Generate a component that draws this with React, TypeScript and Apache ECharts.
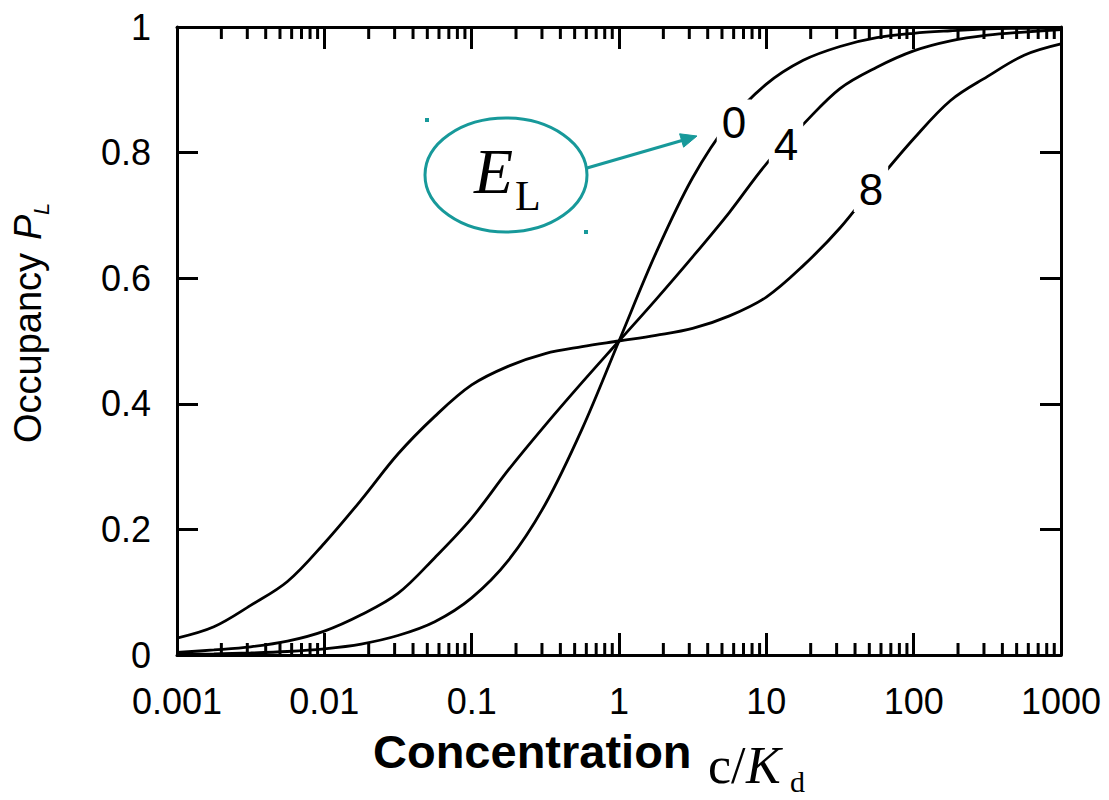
import React, { useEffect, useRef } from "react";
import * as echarts from "echarts";

// Concentration c/Kd (log scale, quarter-decade samples)
const conc = [0.001, 0.00178, 0.00316, 0.00562, 0.01, 0.0178, 0.0316, 0.0562, 0.1, 0.178, 0.316, 0.562, 1, 1.78, 3.16, 5.62, 10, 17.8, 31.6, 56.2, 100, 178, 316, 562, 1000];
// Occupancy P_L for E_L = 0, 4, 8
const occE0 = [0.001, 0.0018, 0.0032, 0.0056, 0.0099, 0.0175, 0.031, 0.053, 0.091, 0.151, 0.24, 0.36, 0.5, 0.64, 0.76, 0.849, 0.909, 0.947, 0.969, 0.983, 0.99, 0.994, 0.997, 0.998, 0.999];
const occE4 = [0.004, 0.008, 0.013, 0.022, 0.038, 0.064, 0.098, 0.155, 0.218, 0.295, 0.366, 0.434, 0.5, 0.566, 0.634, 0.705, 0.782, 0.845, 0.902, 0.936, 0.962, 0.978, 0.987, 0.992, 0.996];
const occE8 = [0.027, 0.045, 0.079, 0.117, 0.178, 0.247, 0.32, 0.38, 0.43, 0.46, 0.48, 0.491, 0.5, 0.509, 0.52, 0.54, 0.57, 0.62, 0.68, 0.753, 0.822, 0.883, 0.921, 0.955, 0.973];

const curveNames = ["0", "4", "8"];
// label anchors [c/Kd, P_L]
const curveLabelX = [6.03, 13.6, 51.3];
const curveLabelY = [0.848, 0.813, 0.742];

const xTickLabels = ["0.001", "0.01", "0.1", "1", "10", "100", "1000"];
const yTickLabels = ["0", "0.2", "0.4", "0.6", "0.8", "1"];
const decades = [0.001, 0.01, 0.1, 1, 10, 100];
const minorMultipliers = [2, 3, 4, 5, 6, 7, 8, 9];

const TEAL = "#17999a";
const SANS = "'Liberation Sans', Arial, Helvetica, sans-serif";
const SERIF = "'Liberation Serif', 'Times New Roman', serif";

const txt = (extra: any) => ({
  fill: "#000",
  align: "left",
  verticalAlign: "middle",
  textAlign: "left",
  textVerticalAlign: "middle",
  ...extra,
});

export default function App() {
  const ref = useRef<HTMLDivElement>(null);
  useEffect(() => {
    document.body.style.margin = "0";
    if (!ref.current) return;
    const chart = echarts.init(ref.current, undefined, { renderer: "svg" });

    const minorTicks: number[][] = [];
    decades.forEach((d) => minorMultipliers.forEach((m) => minorTicks.push([d * m, 0])));

    const xFmt = (v: number) => xTickLabels[Math.round(Math.log10(v)) + 3] ?? "";
    const yFmt = (v: number) => yTickLabels[Math.round(v / 0.2)] ?? "";

    const mkLine = (vals: number[], name: string) => ({
      type: "line",
      name,
      data: conc.map((c, i) => [c, vals[i]]),
      showSymbol: false,
      symbol: "none",
      smooth: 0.35,
      lineStyle: { color: "#000", width: 2.8 },
      silent: true,
      z: 3,
    });

    const axisLine = { show: true, onZero: false, lineStyle: { color: "#000", width: 3 } };
    const majorTick = (len: number) => ({ show: true, inside: true, length: len, lineStyle: { color: "#000", width: 3 } });

    chart.setOption({
      animation: false,
      backgroundColor: "#fff",
      grid: { left: 177, right: 48, top: 27, bottom: 145, containLabel: false },
      xAxis: [
        {
          type: "log",
          logBase: 10,
          min: 0.001,
          max: 1000,
          splitNumber: 6,
          position: "bottom",
          axisLine,
          axisTick: majorTick(22),
          axisLabel: {
            show: true,
            formatter: xFmt,
            fontFamily: SANS,
            fontSize: 36,
            color: "#000",
            margin: 28,
            showMinLabel: true,
            showMaxLabel: true,
            hideOverlap: false,
          },
          splitLine: { show: false },
        },
        {
          type: "log",
          logBase: 10,
          min: 0.001,
          max: 1000,
          splitNumber: 6,
          position: "top",
          axisLine,
          axisTick: majorTick(22),
          axisLabel: { show: false },
          splitLine: { show: false },
        },
      ],
      yAxis: [
        {
          type: "value",
          min: 0,
          max: 1,
          interval: 0.2,
          position: "left",
          axisLine,
          axisTick: majorTick(21),
          axisLabel: { formatter: yFmt, fontFamily: SANS, fontSize: 36, color: "#000", margin: 26 },
          splitLine: { show: false },
        },
        {
          type: "value",
          min: 0,
          max: 1,
          interval: 0.2,
          position: "right",
          axisLine,
          axisTick: majorTick(21),
          axisLabel: { show: false },
          splitLine: { show: false },
        },
      ],
      series: [
        mkLine(occE0, "E_L = 0"),
        mkLine(occE4, "E_L = 4"),
        mkLine(occE8, "E_L = 8"),
        {
          type: "custom",
          name: "minor ticks",
          silent: true,
          clip: false,
          data: minorTicks,
          renderItem: (params: any, api: any) => {
            const v = api.value(0);
            const b = api.coord([v, 0]);
            const t = api.coord([v, 1]);
            return {
              type: "group",
              children: [
                { type: "line", shape: { x1: b[0], y1: b[1], x2: b[0], y2: b[1] - 12 }, style: { stroke: "#000", lineWidth: 3 } },
                { type: "line", shape: { x1: t[0], y1: t[1], x2: t[0], y2: t[1] + 12 }, style: { stroke: "#000", lineWidth: 3 } },
              ],
            };
          },
          z: 2,
        },
        {
          type: "scatter",
          name: "curve labels",
          silent: true,
          symbolSize: 0,
          itemStyle: { color: "#fff", opacity: 1 },
          data: curveNames.map((n, i) => [curveLabelX[i], curveLabelY[i], n]),
          label: {
            show: true,
            position: "inside",
            formatter: (p: any) => p.value[2],
            fontFamily: SANS,
            fontSize: 44,
            color: "#000",
            opacity: 1,
            textBorderWidth: 0,
            textBorderColor: "transparent",
            backgroundColor: "#fff",
            padding: [2, 5, 0, 5],
          },
          z: 5,
        },
      ],
      graphic: [
        // annotation: E_L ellipse with arrow
        {
          type: "ellipse",
          shape: { cx: 506, cy: 175, rx: 81, ry: 57 },
          style: { fill: "none", stroke: TEAL, lineWidth: 3 },
          z: 10,
        },
        { type: "text", x: 474, y: 171, style: txt({ text: "E", fontFamily: SERIF, fontStyle: "italic", fontSize: 64 }), z: 10 },
        { type: "text", x: 515, y: 196, style: txt({ text: "L", fontFamily: SERIF, fontSize: 42 }), z: 10 },
        { type: "line", shape: { x1: 587, y1: 168, x2: 682, y2: 140.5 }, style: { stroke: TEAL, lineWidth: 3 }, z: 10 },
        {
          type: "polygon",
          shape: { points: [[697, 136], [683.6, 147.2], [679.6, 133.8]] },
          style: { fill: TEAL, stroke: TEAL, lineWidth: 1 },
          z: 10,
        },
        { type: "rect", shape: { x: 425, y: 118, width: 4, height: 4 }, style: { fill: TEAL }, z: 10 },
        { type: "rect", shape: { x: 584, y: 230, width: 4, height: 4 }, style: { fill: TEAL }, z: 10 },
        // y-axis title
        {
          type: "group",
          x: 28,
          y: 443,
          rotation: Math.PI / 2,
          children: [
            { type: "text", x: 0, y: 0, style: txt({ text: "Occupancy", fontFamily: SANS, fontSize: 38 }) },
            { type: "text", x: 203, y: 0, style: txt({ text: "P", fontFamily: SANS, fontStyle: "italic", fontSize: 38 }) },
            { type: "text", x: 228, y: 13, style: txt({ text: "L", fontFamily: SANS, fontStyle: "italic", fontSize: 22 }) },
          ],
        },
        // x-axis title
        { type: "text", x: 373, y: 751, style: txt({ text: "Concentration", fontFamily: SANS, fontWeight: "bold", fontSize: 47 }) },
        { type: "text", x: 708, y: 765, style: txt({ text: "c/", fontFamily: SERIF, fontSize: 52 }) },
        { type: "text", x: 746, y: 765, style: txt({ text: "K", fontFamily: SERIF, fontStyle: "italic", fontSize: 52 }) },
        { type: "text", x: 790, y: 781, style: txt({ text: "d", fontFamily: SERIF, fontSize: 30 }) },
      ],
    });
    return () => chart.dispose();
  }, []);
  return <div ref={ref} style={{ width: 1109, height: 800 }} />;
}
